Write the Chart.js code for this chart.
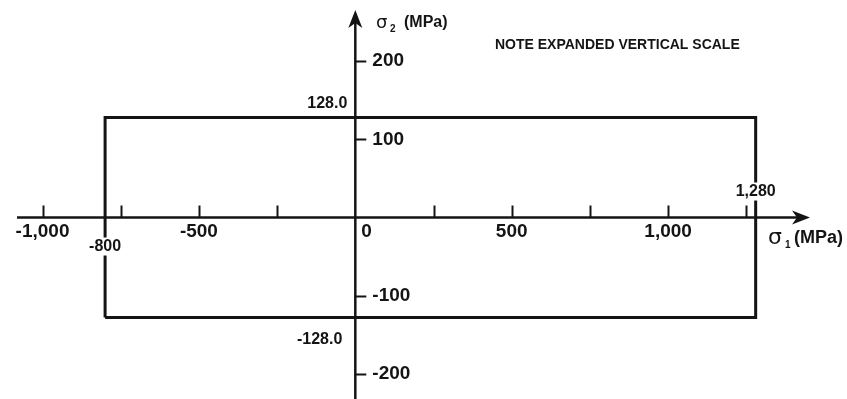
<!DOCTYPE html>
<html>
<head>
<meta charset="utf-8">
<title>Failure envelope</title>
<script src="https://cdn.jsdelivr.net/npm/chart.js@4.4.1/dist/chart.umd.min.js"></script>
<style>
    html, body { margin: 0; padding: 0; background: #fff; }
    #wrap { width: 847px; height: 399px; }
</style>
</head>
<body>
<div id="wrap"><canvas id="envelope-chart" width="847" height="399"></canvas></div>
<script>
"use strict";

// Envelope corners (sigma1, sigma2) in MPa, closed loop
var envelopeS1 = [-800, -800, 1280, 1280, -800];
var envelopeS2 = [-128, 128, 128, -128, -128];

// Axis ticks
var xTickValues = [-1000, -750, -500, -250, 250, 500, 750, 1000, 1250];
var xLabelValues = [-1000, -500, 0, 500, 1000];
var xLabelTexts = ['-1,000', '-500', '0', '500', '1,000'];
var yTickValues = [200, 100, -100, -200];
var yLabelTexts = ['200', '100', '-100', '-200'];

// Corner annotations
var limitS1 = [-800, 1280];
var limitS1Texts = ['-800', '1,280'];
var limitS2 = [128, -128];
var limitS2Texts = ['128.0', '-128.0'];

var noteText = 'NOTE EXPANDED VERTICAL SCALE';

var InitEnvelope = function () {
    var ink = '#141414';
    var boldFont = "'Liberation Sans', Arial, sans-serif";

    var drawText = function (ctx, text, x, y, size, align, clearBg) {
        ctx.font = 'bold ' + size + 'px ' + boldFont;
        ctx.textAlign = align;
        ctx.textBaseline = 'middle';
        if (clearBg) {
            var w = ctx.measureText(text).width;
            var left = align === 'center' ? x - w / 2 : (align === 'right' ? x - w : x);
            ctx.fillStyle = '#fff';
            ctx.fillRect(left - 2, y - size / 2 - 1, w + 4, size + 2);
        }
        ctx.fillStyle = ink;
        ctx.fillText(text, x, y);
    };

    var arrowHead = function (ctx, tipX, tipY, dx, dy) {
        // dx, dy: unit direction the arrow points to
        var len = 18, half = 7, notch = 5;
        var bx = tipX - dx * len, by = tipY - dy * len;
        ctx.beginPath();
        ctx.moveTo(tipX, tipY);
        ctx.lineTo(bx - dy * half, by + dx * half);
        ctx.lineTo(tipX - dx * (len - notch), tipY - dy * (len - notch));
        ctx.lineTo(bx + dy * half, by - dx * half);
        ctx.closePath();
        ctx.fillStyle = ink;
        ctx.fill();
    };

    // Draws axes through origin, ticks, labels and notes
    var axesPlugin = {
        id: 'stressAxes',
        beforeDatasetsDraw: function (chart) {
            var ctx = chart.ctx;
            var xs = chart.scales.x;
            var ys = chart.scales.y;
            var ox = xs.getPixelForValue(0);
            var oy = ys.getPixelForValue(0);

            ctx.save();
            ctx.strokeStyle = ink;
            ctx.lineWidth = 2.5;

            // sigma1 axis
            ctx.beginPath();
            ctx.moveTo(17, oy);
            ctx.lineTo(800, oy);
            ctx.stroke();
            arrowHead(ctx, 810, oy, 1, 0);

            // sigma2 axis
            ctx.beginPath();
            ctx.moveTo(ox, chart.height);
            ctx.lineTo(ox, 20);
            ctx.stroke();
            arrowHead(ctx, ox, 10, 0, -1);

            ctx.lineWidth = 2;
            xTickValues.forEach(function (v) {
                var px = Math.round(xs.getPixelForValue(v)) + 0.5;
                ctx.beginPath();
                ctx.moveTo(px, oy);
                ctx.lineTo(px, oy - 12);
                ctx.stroke();
            });
            yTickValues.forEach(function (v) {
                var py = Math.round(ys.getPixelForValue(v)) + 0.5;
                ctx.beginPath();
                ctx.moveTo(ox, py);
                ctx.lineTo(ox + 11, py);
                ctx.stroke();
            });

            xLabelValues.forEach(function (v, i) {
                var px = xs.getPixelForValue(v);
                if (v === 0) {
                    drawText(ctx, xLabelTexts[i], px + 6, oy + 14, 19, 'left', false);
                } else {
                    drawText(ctx, xLabelTexts[i], px, oy + 14, 19, 'center', false);
                }
            });
            yTickValues.forEach(function (v, i) {
                drawText(ctx, yLabelTexts[i], ox + 17, ys.getPixelForValue(v), 19, 'left', false);
            });

            // Axis titles
            ctx.fillStyle = ink;
            ctx.textBaseline = 'middle';
            ctx.textAlign = 'left';
            ctx.font = "18px 'DejaVu Sans', sans-serif";
            ctx.fillText('\u03c3', 376, 23);
            ctx.font = "22px 'DejaVu Sans', sans-serif";
            ctx.fillText('\u03c3', 768, 238);
            ctx.font = 'bold 10px ' + boldFont;
            ctx.fillText('2', 390, 29);
            ctx.fillText('1', 785, 245);
            drawText(ctx, '(MPa)', 404, 23, 16, 'left', false);
            drawText(ctx, '(MPa)', 794, 238, 18, 'left', false);

            drawText(ctx, noteText, 495, 45, 14, 'left', false);
            ctx.restore();
        },
        afterDatasetsDraw: function (chart) {
            var ctx = chart.ctx;
            var xs = chart.scales.x;
            var ys = chart.scales.y;
            var ox = xs.getPixelForValue(0);

            ctx.save();
            // -800 sits on the left edge below the axis, 1,280 on the right edge above it
            drawText(ctx, limitS1Texts[0], xs.getPixelForValue(limitS1[0]), ys.getPixelForValue(0) + 29, 16, 'center', true);
            drawText(ctx, limitS1Texts[1], xs.getPixelForValue(limitS1[1]), ys.getPixelForValue(0) - 26, 16, 'center', true);
            drawText(ctx, limitS2Texts[0], ox - 8, ys.getPixelForValue(limitS2[0]) - 14, 16, 'right', false);
            drawText(ctx, limitS2Texts[1], ox - 13, ys.getPixelForValue(limitS2[1]) + 22, 16, 'right', false);
            ctx.restore();
        }
    };

    var envelopeChart = function () {
        var chartElement = document.querySelector('#envelope-chart');
        if (!chartElement) {
            return;
        }

        var points = envelopeS1.map(function (s1, i) {
            return { x: s1, y: envelopeS2[i] };
        });

        var config = {
            type: 'line',
            data: {
                datasets: [{
                    label: 'Failure envelope',
                    data: points,
                    borderColor: '#141414',
                    borderWidth: 3,
                    pointRadius: 0,
                    tension: 0,
                    fill: false,
                    borderJoinStyle: 'miter'
                }]
            },
            options: {
                responsive: false,
                animation: false,
                layout: { padding: 0 },
                plugins: {
                    legend: { display: false },
                    tooltip: { enabled: false },
                    title: { display: false }
                },
                scales: {
                    x: { type: 'linear', min: -1136, max: 1572, display: false },
                    y: { type: 'linear', min: -232.3, max: 278.4, display: false }
                }
            },
            plugins: [axesPlugin]
        };

        new Chart(chartElement.getContext('2d'), config);
    };

    return {
        init: function () {
            envelopeChart();
        }
    };
}();

document.addEventListener('DOMContentLoaded', function () {
    InitEnvelope.init();
});
</script>
</body>
</html>
